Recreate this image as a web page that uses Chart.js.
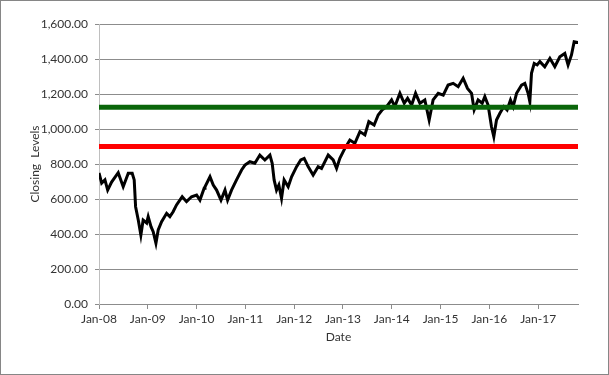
<!DOCTYPE html>
<html lang="en">
<head>
    <meta charset="UTF-8">
    <title>Closing Levels</title>
    <script src="https://cdn.jsdelivr.net/npm/chart.js"></script>
    <style>
        body { margin: 0; background: white; }
        #wrap { position: relative; width: 609px; height: 375px; }
    </style>
</head>
<body>
    <div id="wrap"><canvas id="chart" width="609" height="375"></canvas></div>
    <script>
        // closing levels (approximate)
        const dates = [
            '2008-01-01','2008-01-21','2008-02-15','2008-03-05','2008-04-04','2008-05-23','2008-06-30','2008-08-07',
            '2008-09-06','2008-09-21','2008-10-01','2008-10-21','2008-11-10','2008-11-27','2008-12-23','2009-01-04',
            '2009-01-25','2009-02-11','2009-03-01','2009-03-18','2009-04-13','2009-05-20','2009-06-14','2009-07-08',
            '2009-08-03','2009-09-15','2009-10-17','2009-11-24','2010-01-01','2010-01-26','2010-02-27','2010-03-03',
            '2010-04-10','2010-05-04','2010-05-29','2010-07-01','2010-07-31','2010-08-20','2010-09-19','2010-10-26',
            '2010-12-03','2010-12-28','2011-02-04','2011-03-11','2011-04-18','2011-05-25','2011-07-02','2011-07-19',
            '2011-08-03','2011-08-21','2011-09-08','2011-09-28','2011-10-17','2011-11-17','2011-12-12','2012-01-19',
            '2012-02-20','2012-03-15','2012-04-14','2012-05-21','2012-06-28','2012-07-23','2012-09-12','2012-10-19',
            '2012-11-14','2012-12-08','2013-01-15','2013-02-22','2013-03-29','2013-05-06','2013-06-13','2013-07-12',
            '2013-08-21','2013-09-21','2013-10-21','2013-11-23','2013-12-30','2014-01-24','2014-03-01','2014-04-03',
            '2014-04-28','2014-05-28','2014-06-27','2014-07-29','2014-09-05','2014-10-07','2014-11-06','2014-12-14',
            '2015-01-21','2015-02-27','2015-04-04','2015-05-11','2015-06-18','2015-07-20','2015-08-20','2015-09-09',
            '2015-10-08','2015-11-08','2015-11-28','2015-12-22','2016-01-17','2016-02-04','2016-02-24','2016-03-19',
            '2016-04-18','2016-05-12','2016-06-07','2016-06-27','2016-07-22','2016-08-29','2016-09-23','2016-10-17',
            '2016-10-30','2016-11-12','2016-12-02','2016-12-24','2017-01-14','2017-02-20','2017-03-28','2017-05-04',
            '2017-06-11','2017-07-18','2017-08-12','2017-09-07','2017-09-27','2017-10-27'
        ];
        const closing = [
            749, 691, 709, 651, 697, 750, 670, 747,
            747, 709, 556, 480, 394, 480, 463, 499,
            442, 413, 347, 423, 470, 518, 499, 527,
            566, 613, 585, 613, 623, 594, 661, 670,
            727, 680, 651, 594, 651, 594, 651, 709,
            766, 794, 813, 804, 851, 823, 851, 804,
            709, 651, 680, 604, 709, 670, 727, 785,
            823, 832, 785, 737, 785, 775, 851, 823,
            775, 832, 889, 937, 918, 985, 966, 1042,
            1023, 1080, 1109, 1128, 1166, 1128, 1204, 1147,
            1175, 1137, 1204, 1147, 1166, 1051, 1166, 1204,
            1194, 1251, 1261, 1242, 1290, 1232, 1204, 1109,
            1166, 1147, 1185, 1137, 1013, 956, 1051, 1090,
            1128, 1109, 1166, 1128, 1204, 1251, 1261, 1204,
            1156, 1318, 1375, 1366, 1385, 1356, 1404, 1356,
            1413, 1432, 1366, 1423, 1499, 1494
        ];
        const upperLevel = 1125;
        const lowerLevel = 900;
        const tickLabels = ['Jan-08','Jan-09','Jan-10','Jan-11','Jan-12','Jan-13','Jan-14','Jan-15','Jan-16','Jan-17'];
        const yTicks = [0, 200, 400, 600, 800, 1000, 1200, 1400, 1600];

        // months since Jan-08
        function monthIndex(d) {
            const p = d.split('-').map(Number);
            return (p[0] - 2008) * 12 + (p[1] - 1) + (p[2] - 1) / 30.4;
        }
        const xMax = 117.8;

        const pricePoints = dates.map((d, i) => ({ x: monthIndex(d), y: closing[i] }));

        const borderPlugin = {
            id: 'outerBorder',
            afterDraw(chart) {
                const c = chart.ctx;
                c.save();
                c.strokeStyle = '#868686';
                c.lineWidth = 1;
                c.strokeRect(0.5, 0.5, chart.width - 1, chart.height - 1);
                c.restore();
            }
        };

        const font = { family: 'Lato, "Open Sans", sans-serif', size: 12 };

        new Chart(document.getElementById('chart'), {
            type: 'line',
            data: {
                datasets: [
                    {
                        label: 'Upper',
                        data: [{ x: 0, y: upperLevel }, { x: xMax, y: upperLevel }],
                        borderColor: '#0a660a',
                        borderWidth: 5,
                        pointRadius: 0,
                        order: 0
                    },
                    {
                        label: 'Lower',
                        data: [{ x: 0, y: lowerLevel }, { x: xMax, y: lowerLevel }],
                        borderColor: '#ff0000',
                        borderWidth: 5,
                        pointRadius: 0,
                        order: 0
                    },
                    {
                        label: 'Closing',
                        data: pricePoints,
                        borderColor: '#000000',
                        borderWidth: 3,
                        pointRadius: 0,
                        tension: 0,
                        order: 1
                    }
                ]
            },
            options: {
                responsive: false,
                animation: false,
                layout: { padding: { left: 0, top: 24, right: 31, bottom: 0 } },
                plugins: { legend: { display: false }, tooltip: { enabled: false } },
                scales: {
                    x: {
                        type: 'linear',
                        min: 0,
                        max: xMax,
                        afterBuildTicks: s => { s.ticks = tickLabels.map((_, i) => ({ value: i * 12 })); },
                        afterFit: s => { s.height = 71; },
                        ticks: {
                            callback: (v) => tickLabels[Math.round(v / 12)],
                            color: '#333',
                            font: font,
                            padding: 3,
                            maxRotation: 0,
                            autoSkip: false
                        },
                        grid: { drawOnChartArea: false, drawTicks: true, tickLength: 5, color: '#8c8c8c' },
                        border: { color: '#8c8c8c' },
                        title: { display: true, text: 'Date', color: '#333', font: font, padding: { top: 0, bottom: 31 } }
                    },
                    y: {
                        min: 0,
                        max: 1600,
                        afterBuildTicks: s => { s.ticks = yTicks.map(v => ({ value: v })); },
                        afterFit: s => { s.width = 99; },
                        ticks: {
                            callback: v => v.toLocaleString('en-US', { minimumFractionDigits: 2, maximumFractionDigits: 2 }),
                            color: '#333',
                            font: font,
                            padding: 7
                        },
                        grid: { color: '#8c8c8c', tickLength: 4 },
                        border: { color: '#bfbfbf' },
                        title: { display: true, text: 'Closing  Levels', color: '#333', font: font, padding: { top: 28, bottom: 0 } }
                    }
                }
            },
            plugins: [borderPlugin]
        });
    </script>
</body>
</html>
